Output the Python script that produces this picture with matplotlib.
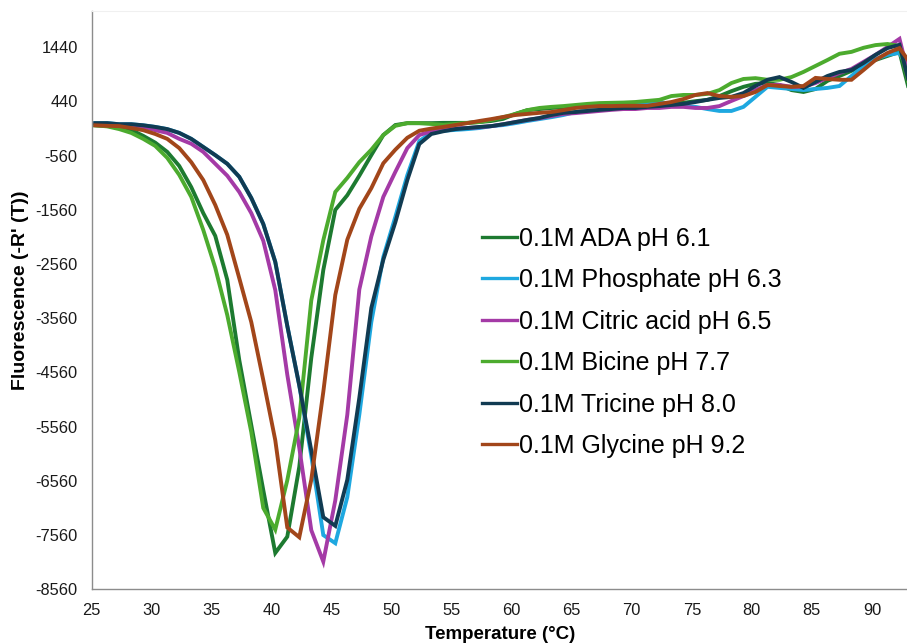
import matplotlib
matplotlib.use('Agg')
import matplotlib.pyplot as plt

plt.rcParams['font.family'] = ['Liberation Sans', 'DejaVu Sans']
plt.rcParams['axes.unicode_minus'] = False

temps = [25.3, 26.3, 27.3, 28.3, 29.3, 30.3, 31.3, 32.3, 33.3, 34.3,
         35.3, 36.3, 37.3, 38.3, 39.3, 40.3, 41.3, 42.3, 43.3, 44.3,
         45.3, 46.3, 47.3, 48.3, 49.3, 50.3, 51.3, 52.3, 53.3, 54.3,
         55.3, 56.3, 57.3, 58.3, 59.3, 60.3, 61.3, 62.3, 63.3, 64.3,
         65.3, 66.3, 67.3, 68.3, 69.3, 70.3, 71.3, 72.3, 73.3, 74.3,
         75.3, 76.3, 77.3, 78.3, 79.3, 80.3, 81.3, 82.3, 83.3, 84.3,
         85.3, 86.3, 87.3, 88.3, 89.3, 90.3, 91.3, 92.3, 93.3]

ada = [0, -10, -30, -85, -195, -320, -490, -750, -1140, -1620,
       -2040, -2850, -4330, -5530, -6730, -7890, -7590, -6300, -4290, -2670,
       -1560, -1290, -930, -550, -180, 5, 40, 40, 40, 45,
       45, 45, 60, 80, 120, 210, 280, 300, 320, 335,
       340, 355, 375, 360, 360, 360, 360, 380, 395, 415,
       445, 470, 540, 630, 710, 765, 780, 745, 650, 615,
       670, 820, 910, 1005, 1115, 1205, 1280, 1355, 470]

phosphate = [40, 40, 20, 20, 0, -30, -70, -140, -250, -400,
             -550, -710, -950, -1340, -1820, -2520, -3700, -4800, -6100, -7560,
             -7710, -6860, -5340, -3630, -2430, -1690, -920, -290, -140, -100,
             -85, -70, -50, -15, 5, 40, 80, 115, 150, 190,
             245, 285, 320, 355, 395, 410, 410, 430, 395, 355,
             340, 300, 265, 265, 340, 525, 710, 690, 670, 650,
             670, 690, 725, 910, 1095, 1225, 1300, 1335, 930]

citric = [20, 20, 0, -15, -30, -90, -140, -250, -340, -490,
          -710, -930, -1230, -1620, -2130, -3040, -4600, -5950, -7470, -8050,
          -6920, -5340, -3030, -2050, -1320, -860, -420, -180, -110, -70,
          -55, -50, -35, -15, 20, 60, 100, 130, 170, 210,
          225, 245, 265, 285, 300, 300, 320, 320, 340, 340,
          320, 320, 355, 450, 540, 650, 745, 745, 710, 710,
          780, 875, 965, 1040, 1170, 1300, 1445, 1595, 700]

bicine = [0, -20, -70, -140, -250, -380, -600, -915, -1320, -1930,
          -2630, -3500, -4550, -5660, -7060, -7460, -6550, -5400, -3230, -2120,
          -1230, -970, -680, -450, -180, -10, 40, 40, 25, 10,
          25, 45, 60, 100, 150, 210, 280, 320, 340, 355,
          375, 395, 410, 415, 420, 430, 450, 470, 540, 560,
          560, 580, 650, 780, 855, 870, 840, 840, 890, 985,
          1095, 1205, 1320, 1355, 1430, 1480, 1500, 1465, 560]

tricine = [40, 40, 20, 20, 0, -30, -70, -140, -250, -400,
           -550, -710, -950, -1340, -1820, -2520, -3700, -4800, -6000, -7230,
           -7390, -6540, -5030, -3370, -2480, -1790, -1010, -345, -160, -110,
           -70, -50, -30, -15, 20, 60, 100, 135, 190, 230,
           245, 265, 285, 300, 320, 320, 340, 355, 375, 395,
           430, 470, 505, 525, 595, 725, 840, 890, 800, 690,
           800, 910, 985, 1020, 1150, 1300, 1425, 1485, 600]

glycine = [0, -10, -15, -50, -90, -160, -250, -420, -680, -1010,
           -1470, -2020, -2820, -3630, -4700, -5810, -7420, -7600, -6540, -4920,
           -3130, -2110, -1540, -1160, -700, -450, -230, -100, -60, -30,
           5, 40, 80, 115, 155, 190, 210, 230, 245, 280,
           320, 340, 355, 355, 360, 360, 360, 395, 430, 485,
           560, 595, 540, 525, 540, 615, 745, 725, 710, 725,
           875, 855, 840, 840, 1020, 1205, 1335, 1425, 1115]

labels = ['0.1M ADA pH 6.1', '0.1M Phosphate pH 6.3', '0.1M Citric acid pH 6.5',
          '0.1M Bicine pH 7.7', '0.1M Tricine pH 8.0', '0.1M Glycine pH 9.2']
colors = ['#1d7a30', '#1ea8e0', '#a43aa6', '#4cab2e', '#113b52', '#a2461a']
series = [ada, phosphate, citric, bicine, tricine, glycine]

yticks = [-8560, -7560, -6560, -5560, -4560, -3560, -2560, -1560, -560, 440, 1440]
xticks = [25, 30, 35, 40, 45, 50, 55, 60, 65, 70, 75, 80, 85, 90]

fig = plt.figure(figsize=(9.07, 6.44), dpi=100)
ax = fig.add_axes([0.101, 0.085, 0.9, 0.898])

for vals, lab, c in zip(series, labels, colors):
    ax.plot(temps, vals, color=c, lw=2.8, label=lab, solid_joinstyle='miter')

ax.set_xlim(25, 93)
ax.set_ylim(-8560, 2110)
ax.set_xticks(xticks)
ax.set_yticks(yticks)
ax.tick_params(length=0, labelsize=11.8, colors='#1a1a1a')
ax.tick_params(axis='x', pad=10)
ax.tick_params(axis='y', pad=10)

for s in ['left', 'bottom']:
    ax.spines[s].set_color('#8c8c8c')
    ax.spines[s].set_linewidth(1.0)
ax.spines['top'].set_color('#f0f0f0')
ax.spines['right'].set_visible(False)

ax.set_xlabel('Temperature (°C)', fontsize=13.5, fontweight='bold', labelpad=6)
ax.set_ylabel("Fluorescence (-R' (T))", fontsize=14, fontweight='bold')
ax.yaxis.set_label_coords(-0.077, 0.517)

leg = fig.legend(loc='upper left', bbox_to_anchor=(0.531, 0.648), frameon=False,
                 fontsize=18, handlelength=1.4, handletextpad=0.1,
                 labelspacing=0.7, borderpad=0, borderaxespad=0)
for line in leg.get_lines():
    line.set_linewidth(2.4)

fig.savefig('out.png', dpi=100)
